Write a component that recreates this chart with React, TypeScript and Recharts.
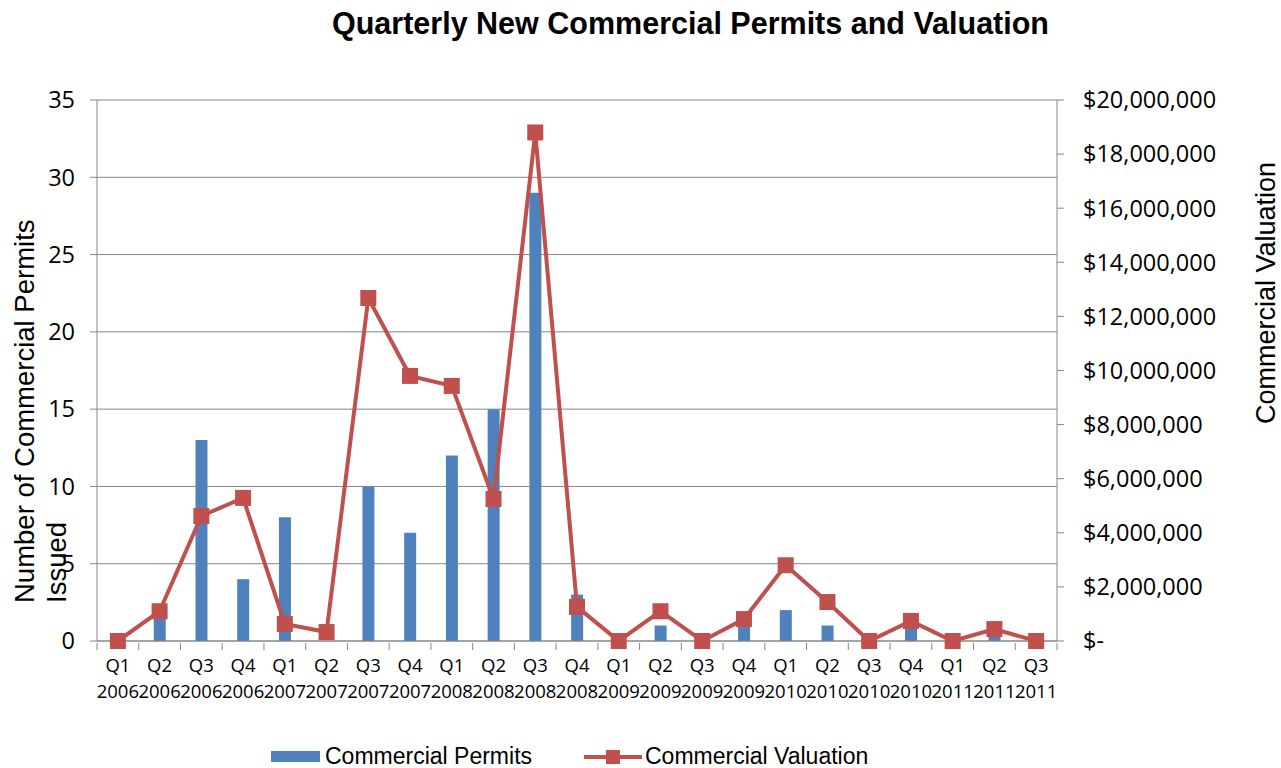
import React from 'react';
import { ComposedChart, Bar, Line, XAxis, YAxis, CartesianGrid, Legend } from 'recharts';

const quarters = ['Q1','Q2','Q3','Q4','Q1','Q2','Q3','Q4','Q1','Q2','Q3','Q4','Q1','Q2','Q3','Q4','Q1','Q2','Q3','Q4','Q1','Q2','Q3'];
const years = ['2006','2006','2006','2006','2007','2007','2007','2007','2008','2008','2008','2008','2009','2009','2009','2009','2010','2010','2010','2010','2011','2011','2011'];
const permits = [0, 2, 13, 4, 8, 0, 10, 7, 12, 15, 29, 3, 0, 1, 0, 1, 2, 1, 0, 1, 0, 1, 0];
const valuation = [0, 1100000, 4620000, 5290000, 630000, 330000, 12680000, 9800000, 9430000, 5250000, 18800000, 1260000, 0, 1100000, 0, 810000, 2800000, 1440000, 0, 740000, 0, 440000, 0];
const leftTicks = [0, 5, 10, 15, 20, 25, 30, 35];
const rightTicks = [0, 2000000, 4000000, 6000000, 8000000, 10000000, 12000000, 14000000, 16000000, 18000000, 20000000];

const data = quarters.map((q, i) => ({
  label: `${q} ${years[i]}`,
  permits: permits[i],
  valuation: valuation[i],
}));

const BAR_COLOR = '#4F81BD';
const LINE_COLOR = '#C0504D';
const GRID = '#868686';
const TICK_FONT = '"Open Sans", sans-serif';
const ARIAL = '"Liberation Sans", Arial, sans-serif';

const PLOT_LEFT = 97;
const PLOT_RIGHT = 1057;
const BAND = (PLOT_RIGHT - PLOT_LEFT) / quarters.length;

const XTick = (props: any) => {
  const { x, y, payload, index } = props;
  const [q, yr] = String(payload.value).split(' ');
  const axisY = y - 4;
  return (
    <g>
      <line x1={x - BAND / 2} x2={x - BAND / 2} y1={axisY} y2={axisY + 7} stroke={GRID} />
      {index === quarters.length - 1 && (
        <line x1={x + BAND / 2} x2={x + BAND / 2} y1={axisY} y2={axisY + 7} stroke={GRID} />
      )}
      <text x={x} y={axisY + 29} textAnchor="middle" fontFamily={TICK_FONT} fontSize={18.5} fill="#000">{q}</text>
      <text x={x} y={axisY + 55} textAnchor="middle" fontFamily={TICK_FONT} fontSize={18.5} fill="#000">{yr}</text>
    </g>
  );
};

const SquareDot = (props: any) => {
  const { cx, cy } = props;
  if (cx == null || cy == null) return null;
  const s = 16;
  return <rect x={cx - s / 2} y={cy - s / 2} width={s} height={s} fill={LINE_COLOR} />;
};

const fmtMoney = (v: number) => (v === 0 ? '$-' : '$' + v.toLocaleString('en-US'));

const LegendContent = () => (
  <div style={{ position: 'relative', width: 1281, height: 37, fontFamily: ARIAL, fontSize: 23, color: '#000' }}>
    <div style={{ position: 'absolute', left: 271, top: 20, width: 49, height: 11, background: BAR_COLOR }} />
    <div style={{ position: 'absolute', left: 325, top: 11, lineHeight: '28px', whiteSpace: 'nowrap' }}>Commercial Permits</div>
    <svg style={{ position: 'absolute', left: 584, top: 15 }} width={58} height={22}>
      <line x1={0} x2={58} y1={11} y2={11} stroke={LINE_COLOR} strokeWidth={4} />
      <rect x={22} y={4} width={14} height={14} fill={LINE_COLOR} />
    </svg>
    <div style={{ position: 'absolute', left: 645, top: 11, lineHeight: '28px', whiteSpace: 'nowrap' }}>Commercial Valuation</div>
  </div>
);

const LeftLabel = () => {
  const startY = 603;
  return (
    <g>
      <text transform={`translate(34, ${startY}) rotate(-90)`} textAnchor="start" fontFamily={ARIAL} fontSize={27.5} fill="#000">Number of Commercial Permits</text>
      <text transform={`translate(66, ${startY}) rotate(-90)`} textAnchor="start" fontFamily={ARIAL} fontSize={27.5} fill="#000">Issued</text>
    </g>
  );
};

const RightLabel = () => (
  <text transform={`translate(1275, 293) rotate(-90)`} textAnchor="middle" fontFamily={ARIAL} fontSize={27} fill="#000">Commercial Valuation</text>
);

export default function App() {
  return (
    <div style={{ position: 'absolute', left: 0, top: 0, width: 1281, height: 768, background: '#fff' }}>
      <div style={{ position: 'absolute', left: 0, top: 4, width: 1281, textAlign: 'center', paddingLeft: 100, boxSizing: 'border-box', fontFamily: ARIAL, fontWeight: 'bold', fontSize: 30.5, color: '#000', lineHeight: '38px', whiteSpace: 'nowrap' }}>
        Quarterly New Commercial Permits and Valuation
      </div>
      <ComposedChart
        width={1281}
        height={768}
        data={data}
        margin={{ top: 100, right: 1281 - PLOT_RIGHT - 160, left: PLOT_LEFT - 60, bottom: 0 }}
        barCategoryGap={0}
      >
        <CartesianGrid yAxisId="left" vertical={false} horizontal={true} stroke={GRID} strokeWidth={1} />
        <XAxis
          dataKey="label"
          xAxisId={0}
          height={90}
          interval={0}
          tick={<XTick />}
          tickLine={false}
          axisLine={{ stroke: GRID }}
          tickSize={4}
        />
        <YAxis
          yAxisId="left"
          orientation="left"
          width={60}
          domain={[0, 35]}
          ticks={leftTicks}
          interval={0}
          tickSize={7}
          tickMargin={15}
          tick={{ fontFamily: TICK_FONT, fontSize: 23.5, fill: '#000' }}
          axisLine={{ stroke: GRID }}
          tickLine={{ stroke: GRID }}
          label={<LeftLabel />}
        />
        <YAxis
          yAxisId="right"
          orientation="right"
          width={160}
          domain={[0, 20000000]}
          ticks={rightTicks}
          interval={0}
          tickSize={7}
          tickMargin={19}
          tickFormatter={fmtMoney}
          tick={{ fontFamily: TICK_FONT, fontSize: 23.5, fill: '#000', textAnchor: 'start' }}
          axisLine={{ stroke: GRID }}
          tickLine={{ stroke: GRID }}
          label={<RightLabel />}
        />
        <Legend verticalAlign="bottom" height={37} wrapperStyle={{ left: 0, width: 1281 }} content={<LegendContent />} />
        <Bar yAxisId="left" dataKey="permits" name="Commercial Permits" fill={BAR_COLOR} barSize={12} isAnimationActive={false} />
        <Line
          yAxisId="right"
          dataKey="valuation"
          name="Commercial Valuation"
          stroke={LINE_COLOR}
          strokeWidth={4}
          dot={<SquareDot />}
          activeDot={false}
          isAnimationActive={false}
        />
      </ComposedChart>
    </div>
  );
}
